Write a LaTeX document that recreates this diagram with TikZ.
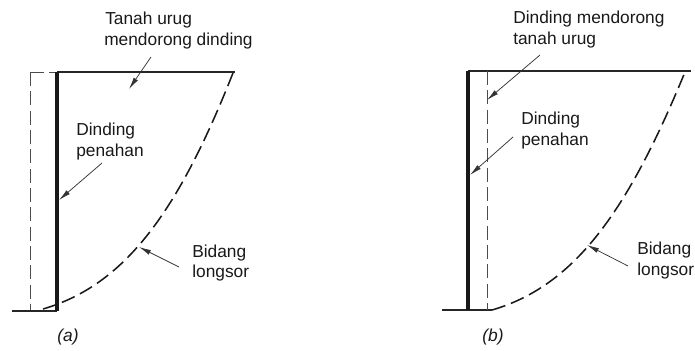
\documentclass[tikz,border=0pt]{standalone}
\usepackage{fontspec}
\setmainfont{Liberation Sans}
\usetikzlibrary{arrows.meta}

\begin{document}
\begin{tikzpicture}[
  x=0.75pt, y=-0.75pt,
  font=\fontsize{13pt}{15.7pt}\selectfont,
  lbl/.style={anchor=base west, align=left, inner sep=0pt, text=black!90},
  ground/.style={draw=black!85, line width=0.8pt},
  wall/.style={draw=black!90, line width=3.2pt},
  oldwall/.style={draw=black!70, line width=0.6pt, dash pattern=on 10.5pt off 4pt},
  slip/.style={draw=black!90, line width=1.15pt, dash pattern=on 10.5pt off 4.5pt},
  lead/.style={draw=black!80, line width=0.55pt, -{Latex[length=9pt,width=3.8pt]}}
]
\useasboundingbox (0,0) rectangle (695,350);
\fill[white] (0,0) rectangle (695,350);

% (a)
\coordinate (aTopL) at (30,72);
\coordinate (aTopW) at (57,72);
\coordinate (aTopR) at (235,72);
\coordinate (aGndL) at (12,311);
\coordinate (aGndD) at (30,311);
\coordinate (aGndW) at (57,311);
\coordinate (aSlipB) at (43,309);
\coordinate (aSlipE) at (233,73);
\draw[oldwall] (aTopL) -- (aTopW);
\draw[oldwall] (aTopL) -- (aGndD);
\draw[ground] (aTopW) -- (aTopR);
\draw[ground] (aGndL) -- (aGndW);
\draw[wall] (aTopW) -- (aGndW);
\draw[slip] (aSlipB) .. controls (125,285) and (178,212) .. (aSlipE);

\node[lbl] (aFill) at (105,24) {Tanah urug};
\node[lbl] (aFill2) at (104,45.5) {mendorong dinding};
\node[lbl] (aWall) at (76,135) {Dinding};
\node[lbl] (aWall2) at (76,156) {penahan};
\node[lbl] (aSlip) at (192,257) {Bidang};
\node[lbl] (aSlip2) at (192,277) {longsor};
\node[lbl, anchor=center] (aCap) at (68,337) {\itshape (a)};

\coordinate (aFillS) at (151,57);
\coordinate (aFillT) at (129,89);
\coordinate (aWallS) at (102,163);
\coordinate (aWallT) at (59,200);
\coordinate (aSlipS) at (179,267);
\coordinate (aSlipT) at (139,247);
\draw[lead] (aFillS) -- (aFillT);
\draw[lead] (aWallS) -- (aWallT);
\draw[lead] (aSlipS) -- (aSlipT);

% (b)
\coordinate (bTopW) at (468,71);
\coordinate (bTopD) at (487,71);
\coordinate (bTopR) at (691,71);
\coordinate (bGndL) at (442,310);
\coordinate (bGndW) at (468,310);
\coordinate (bGndD) at (487,310);
\coordinate (bGndR) at (492,310);
\coordinate (bSlipB) at (492,310);
\coordinate (bSlipE) at (685,72);
\draw[ground] (bTopW) -- (bTopR);
\draw[ground] (bGndL) -- (bGndR);
\draw[oldwall] (bTopD) -- (bGndD);
\draw[wall] (bTopW) -- (bGndW);
\draw[slip] (bSlipB) .. controls (574,286) and (627,213) .. (bSlipE);

\node[lbl] (bFill) at (513,23) {Dinding mendorong};
\node[lbl] (bFill2) at (513,44) {tanah urug};
\node[lbl] (bWall) at (521,124) {Dinding};
\node[lbl] (bWall2) at (521,145) {penahan};
\node[lbl] (bSlip) at (637,254) {Bidang};
\node[lbl] (bSlip2) at (637,275) {longsor};
\node[lbl, anchor=center] (bCap) at (493,337) {\itshape (b)};

\coordinate (bFillS) at (540,55);
\coordinate (bFillT) at (487,100);
\coordinate (bWallS) at (513,137);
\coordinate (bWallT) at (470,175);
\coordinate (bSlipS) at (628,266);
\coordinate (bSlipT) at (587,245);
\draw[lead] (bFillS) -- (bFillT);
\draw[lead] (bWallS) -- (bWallT);
\draw[lead] (bSlipS) -- (bSlipT);
\end{tikzpicture}
\end{document}
